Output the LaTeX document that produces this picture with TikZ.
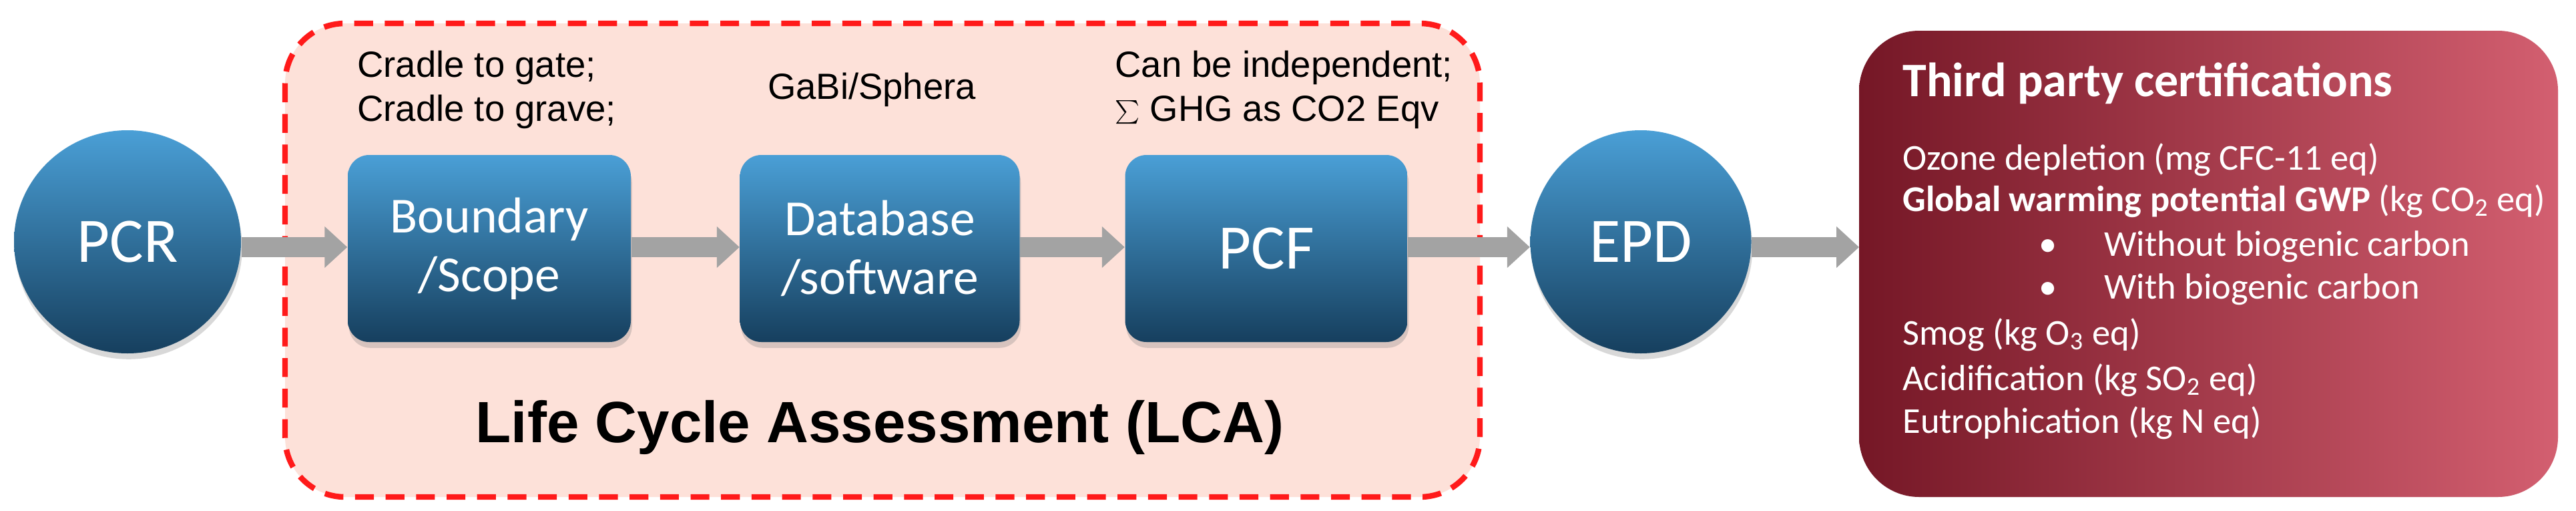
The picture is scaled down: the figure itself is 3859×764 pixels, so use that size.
\documentclass[tikz,border=0pt]{standalone}
\usepackage{fontspec}
\setmainfont{Liberation Sans}
\newfontfamily\calfont{Carlito}
\usetikzlibrary{shadows,arrows.meta,shapes.geometric}
\definecolor{btop}{HTML}{4A9FD6}
\definecolor{bbot}{HTML}{163F5E}
\definecolor{pinkf}{HTML}{FDE1D9}
\definecolor{redd}{HTML}{FF1A1A}
\definecolor{certa}{HTML}{751726}
\definecolor{certb}{HTML}{D35F70}
\definecolor{arr}{HTML}{A3A3A3}
\tikzset{
  bluebox/.style={rounded corners=3.2mm, top color=btop, bottom color=bbot, draw=none,
    drop shadow={shadow xshift=0.5pt, shadow yshift=-2.5pt, opacity=.3},
    text=white, font=\calfont\fontsize{21.5}{25}\selectfont, align=center},
  bluecirc/.style={ellipse, top color=btop, bottom color=bbot, draw=none,
    drop shadow={shadow xshift=0.5pt, shadow yshift=-2.5pt, opacity=.3},
    text=white, font=\calfont\fontsize{27}{30}\selectfont},
  flow/.style={draw=arr, line width=3mm, -{Triangle[length=3.4mm,width=6mm]}},
  note/.style={font=\fontsize{15.5}{18.8}\selectfont, align=left, text=black},
  cert/.style={font=\calfont\fontsize{15.5}{18.8}\selectfont, text=white, anchor=west}
}
\begin{document}
\begin{tikzpicture}[x=0.1mm,y=-0.1mm]
\useasboundingbox (0,0) rectangle (3859,764);
\fill[white] (0,0) rectangle (3859,764);
% LCA box
\draw[redd, line width=2.4pt, dash pattern=on 8pt off 5pt, fill=pinkf, rounded corners=9mm] (427,35) rectangle (2217,744);
% cert box
\shade[rounded corners=9mm, shading angle=135, left color=certa, right color=certb] (2785,46) rectangle (3832,744);
% nodes
\node[bluecirc, minimum width=34mm, minimum height=33.4mm] (pcr) at (191,362) {PCR};
\node[bluebox, minimum width=42.4mm, minimum height=28mm] (bnd) at (733,372) {Boundary\\/Scope};
\node[bluebox, minimum width=41.9mm, minimum height=28mm] (db) at (1318,372) {Database\\/software};
\node[bluebox, minimum width=42.3mm, minimum height=28mm, font=\calfont\fontsize{27}{30}\selectfont] (pcf) at (1897,372) {PCF};
\node[bluecirc, minimum width=33.1mm, minimum height=33.4mm] (epd) at (2458,362) {EPD};
\coordinate (certin) at (2785,370);
% arrows
\draw[flow] (pcr.east |- 0,370) -- (bnd.west |- 0,370);
\draw[flow] (bnd.east |- 0,370) -- (db.west |- 0,370);
\draw[flow] (db.east |- 0,370) -- (pcf.west |- 0,370);
\draw[flow] (pcf.east |- 0,370) -- (epd.west |- 0,370);
\draw[flow] (epd.east |- 0,370) -- (certin);
% notes
\node[note, anchor=west] (n1) at (523,134) {Cradle to gate;\\Cradle to grave;};
\node[note] (n2) at (1306,134) {GaBi/Sphera};
\node[note, anchor=west] (n3) at (1658,134) {Can be independent;\\$\sum$ GHG as CO2 Eqv};
\node[font=\bfseries\fontsize{24.8}{28}\selectfont] (lca) at (1318,640) {Life Cycle Assessment (LCA)};
% cert text
\node[cert, font=\calfont\bfseries\fontsize{20.5}{24}\selectfont] (ct) at (2838,125) {Third party certifications};
\node[cert] (c1) at (2838,239) {Ozone depletion (mg CFC-11 eq)};
\node[cert] (c2) at (2838,301) {\textbf{Global warming potential GWP} (kg CO\textsubscript{2} eq)};
\node[cert] (c3) at (3042,369) {\textbullet\hspace{1.3em}Without biogenic carbon};
\node[cert] (c4) at (3042,433) {\textbullet\hspace{1.3em}With biogenic carbon};
\node[cert] (c5) at (2838,501) {Smog (kg O\textsubscript{3} eq)};
\node[cert] (c6) at (2838,569) {Acidification (kg SO\textsubscript{2} eq)};
\node[cert] (c7) at (2838,633) {Eutrophication (kg N eq)};
\end{tikzpicture}
\end{document}
